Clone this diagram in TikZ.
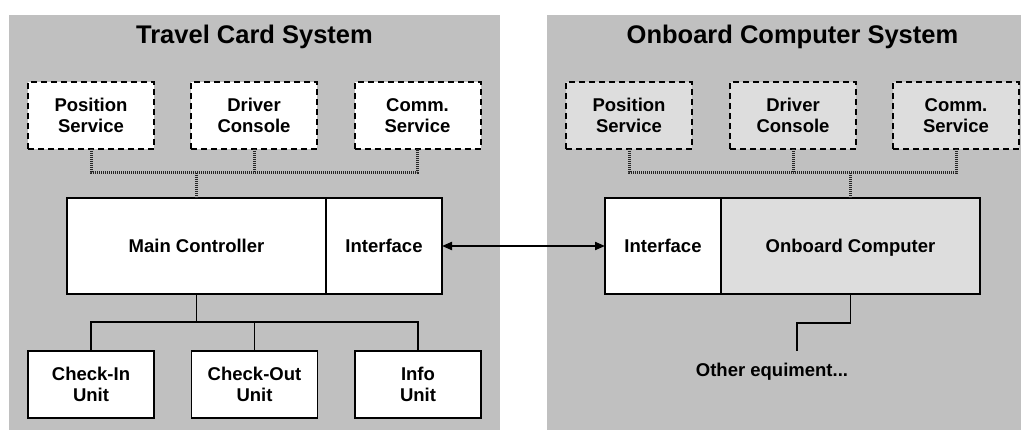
\documentclass[tikz,border=0pt]{standalone}
\usepackage{fontspec}
\setmainfont{Liberation Sans}
\usetikzlibrary{arrows.meta}
\definecolor{panelgray}{RGB}{192,192,192}
\definecolor{lightfill}{RGB}{221,221,221}
\tikzset{
  svcbox/.style={draw=black, line width=2pt, dash pattern=on 6pt off 4pt, fill=white,
    minimum width=126pt, minimum height=67pt, inner sep=0pt, outer sep=0pt, align=center,
    font=\fontsize{18.5}{21}\selectfont\bfseries},
  unitbox/.style={draw=black, line width=1.4pt, fill=white,
    minimum height=67pt, minimum width=126pt, inner sep=0pt, outer sep=0pt, align=center,
    font=\fontsize{18.5}{21}\selectfont\bfseries},
  bigbox/.style={unitbox, minimum height=96pt, text height=13pt, text depth=0pt},
  title/.style={font=\fontsize{25.5}{28}\selectfont\bfseries},
  dotline/.style={line width=3pt, dash pattern=on 1.2pt off 0.8pt, black!85},
  conn/.style={line width=1.4pt, black},
}
\begin{document}
\begin{tikzpicture}[x=1pt,y=-1pt]
\useasboundingbox (0,0) rectangle (1021,430);
\fill[panelgray] (9,15) rectangle (500,430);
\fill[panelgray] (547,15) rectangle (1021,430);
\node[title] (t1) at (254.5,37) {Travel Card System};
\node[title] (t2) at (792.5,37) {Onboard Computer System};
% left services
\node[svcbox] (ps1) at (91,115.5) {Position\\Service};
\node[svcbox] (dc1) at (254,115.5) {Driver\\Console};
\node[svcbox] (cs1) at (417.5,115.5) {Comm.\\Service};
% right services
\node[svcbox, fill=lightfill] (ps2) at (629,115.5) {Position\\Service};
\node[svcbox, fill=lightfill] (dc2) at (793,115.5) {Driver\\Console};
\node[svcbox, fill=lightfill] (cs2) at (956,115.5) {Comm.\\Service};
% main boxes
\node[bigbox, minimum width=259pt] (mc) at (196.5,246) {Main Controller};
\node[bigbox, minimum width=116pt] (if1) at (384,246) {Interface};
\node[bigbox, minimum width=116pt] (if2) at (663,246) {Interface};
\node[bigbox, minimum width=259pt, fill=lightfill] (oc) at (850.5,246) {Onboard Computer};
% units
\node[unitbox] (ci) at (91,384.5) {Check-In\\Unit};
\node[unitbox] (co) at (254.5,384.5) {Check-Out\\Unit};
\node[unitbox] (iu) at (418,384.5) {Info\\Unit};
\node[font=\fontsize{18.5}{21}\selectfont\bfseries, text height=13pt, text depth=0pt, inner sep=0pt] (oe) at (772,370) {Other equiment...};
% dotted connectors left
\coordinate (j1) at (196.5,173);
\draw[dotline] (ps1.south) |- (cs1.south |- j1) -- (cs1.south);
\draw[dotline] (dc1.south) -- (dc1.south |- j1);
\draw[dotline] (j1) -- (mc.north);
% dotted connectors right
\coordinate (j2) at (850.5,173);
\draw[dotline] (ps2.south) |- (cs2.south |- j2) -- (cs2.south);
\draw[dotline] (dc2.south) -- (dc2.south |- j2);
\draw[dotline] (j2) -- (oc.north);
% lower left connectors
\coordinate (k1) at (196.5,322);
\draw[conn] (mc.south) -- (k1);
\draw[conn] (ci.north) |- (iu.north |- k1) -- (iu.north);
\draw[conn] (co.north) -- (co.north |- k1);
% lower right connector
\coordinate (e2) at (797,351);
\draw[conn] (oc.south) -- ++(0,29) -| (e2);
% interface arrow
\draw[line width=2pt, {Triangle[length=10pt,width=8pt]}-{Triangle[length=10pt,width=8pt]}] (if1.east) -- (if2.west);
\end{tikzpicture}
\end{document}
